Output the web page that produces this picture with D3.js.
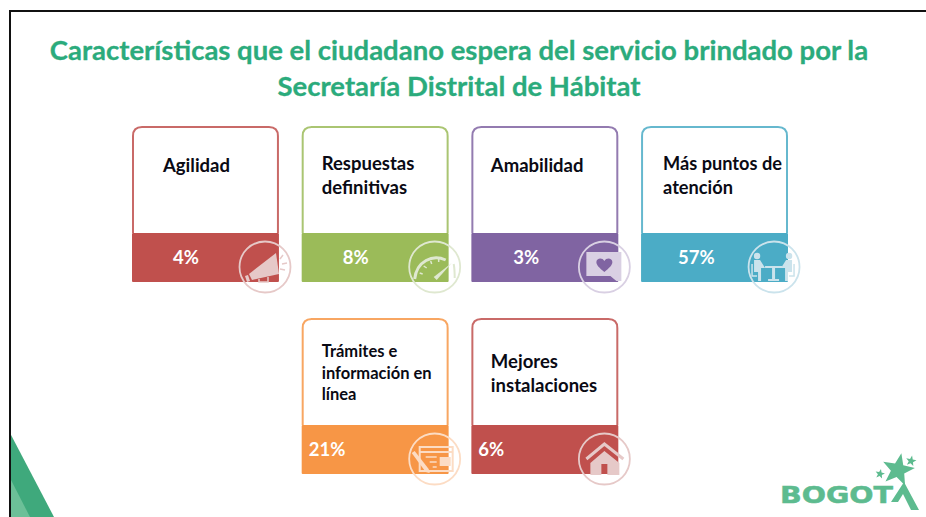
<!DOCTYPE html>
<html>
<head>
	<meta charset="utf-8">
	<title>Características</title>
	<style type="text/css">
		html, body {
			margin: 0;
			padding: 0;
			background-color: #fff;
			overflow: hidden;
		}

		svg {
			display: block;
			font-family: Lato, "Open Sans", sans-serif;
		}

		.title {
			font-size: 27.5px;
			font-weight: bold;
			fill: #2bab7c;
			stroke: #2bab7c;
			stroke-width: 0.3px;
			text-anchor: middle;
		}

		.label {
			font-weight: bold;
			fill: #0a0a14;
		}

		.value {
			font-size: 18.5px;
			font-weight: bold;
			fill: #fff;
		}
	</style>
	<script type="text/javascript" src="https://cdnjs.cloudflare.com/ajax/libs/d3/7.8.5/d3.min.js"></script>
</head>

<body>
	<div id='chart'></div>
	<script type="text/javascript">
		// values
		var titleLines = ['Características que el ciudadano espera del servicio brindado por la',
			'Secretaría Distrital de Hábitat'];
		var categories = ['Agilidad', 'Respuestas definitivas', 'Amabilidad', 'Más puntos de atención',
			'Trámites e información en línea', 'Mejores instalaciones'];
		var values = [4, 8, 3, 57, 21, 6];
		var labelLines = [['Agilidad'], ['Respuestas', 'definitivas'], ['Amabilidad'], ['Más puntos de', 'atención'],
			['Trámites e', 'información en', 'línea'], ['Mejores', 'instalaciones']];
		var iconNames = ['megaphone', 'gauge', 'heart', 'meeting', 'web', 'house'];

		// layout and colours, separate from the values
		var cardCols = [0, 1, 2, 3, 1, 2];
		var cardRows = [0, 0, 0, 0, 1, 1];
		var colours = ['#c0504d', '#9bbb59', '#8064a2', '#4bacc6', '#f79646', '#c0504d'];
		var tints = ['#e6c9c8', '#dfe8d0', '#d9d0e3', '#cbe3ec', '#fcdcc4', '#e6c9c8'];
		var labelDx = [31, 20, 19.5, 22, 20, 19.5];
		var labelDy = [46, 44, 46, 44, 39, 50];
		var labelSize = [18.5, 18.5, 18.5, 18.2, 16.5, 18.5];
		var labelGap = [24, 24, 24, 24, 21.5, 24];
		var valueDx = [41, 41, 42, 37, 7, 7];

		var width = 926, height = 517, cardH = 156, bandH = 49;

		var svg = d3.select('#chart')
			.append('svg')
			.attr('width', width)
			.attr('height', height);

		var xScale = d3.scaleBand()
			.domain([0, 1, 2, 3])
			.range([132, 788])
			.paddingInner(0.134);

		var yScale = d3.scalePoint()
			.domain([0, 1])
			.range([126, 318]);

		var fmt = function(v) { return v + '%'; };

		// corner triangles, behind the frame
		svg.append('path').attr('d', 'M10,433L54,517H10Z').attr('fill', '#3fa97c');
		svg.append('path').attr('d', 'M10,478L30,517H10Z').attr('fill', '#6cc098');

		// frame
		svg.append('path')
			.attr('d', 'M10,517V11H926')
			.attr('fill', 'none')
			.attr('stroke', '#111')
			.attr('stroke-width', 2);

		svg.selectAll('.title')
			.data(titleLines)
			.enter()
			.append('text')
			.attr('class', 'title')
			.attr('x', 459)
			.attr('y', function(d, i) { return 60 + i * 36; })
			.text(function(d) { return d; });

		// small icons, drawn around 0,0 inside the r=25 circle
		var icons = {
			megaphone: function(g, c, t) {
				g.append('path').attr('d', 'M-16,7L11,-14L14,7L-13,13Z').attr('fill', t);
				g.append('path').attr('d', 'M-20,9L-17,8L-15,14L-18,15Z').attr('fill', t);
				g.append('path').attr('d', 'M-6,12V15H3V10').attr('fill', 'none').attr('stroke', t).attr('stroke-width', 1.5);
				g.append('path').attr('d', 'M15,-8L18,-12M17,-3L22,-4M15,2L20,3').attr('stroke', t).attr('stroke-width', 1.5);
			},
			gauge: function(g, c, t) {
				g.append('path').attr('d', 'M-20,12C-18,-6 -2,-13 11,-7').attr('fill', 'none').attr('stroke', t).attr('stroke-width', 3);
				g.append('path').attr('d', 'M-15,6L-12,7M-11,-1L-8,1M-4,-6L-3,-3M4,-8L4,-5').attr('stroke', t).attr('stroke-width', 1.5);
				g.append('path').attr('d', 'M-1,10L2,13L17,-4Z').attr('fill', t);
				g.append('path').attr('d', 'M19,-3C20,2 20,6 20,11').attr('fill', 'none').attr('stroke', t).attr('stroke-width', 2);
			},
			heart: function(g, c, t) {
				g.append('path').attr('d', 'M-18,-15H17V14H12L6,9H-18Z').attr('fill', t);
				g.append('path').attr('d', 'M0,5C-5,1 -8,-2 -8,-5C-8,-9 -2,-10 0,-6C2,-10 8,-9 8,-5C8,-2 5,1 0,5Z').attr('fill', c);
			},
			meeting: function(g, c, t) {
				g.append('circle').attr('cx', -17).attr('cy', -11).attr('r', 3.2).attr('fill', t);
				g.append('circle').attr('cx', 15).attr('cy', -11).attr('r', 3.2).attr('fill', t);
				g.append('path').attr('d', 'M-20,-7H-14L-9,1H-13V14H-16V5H-20Z').attr('fill', t);
				g.append('path').attr('d', 'M18,-7H12L7,1H11V14H14V5H18Z').attr('fill', t);
				g.append('path').attr('d', 'M-9,-1H8V1H1V12H5V14H-6V12H-2V1H-9Z').attr('fill', t);
				g.append('path').attr('d', 'M-22,-3V9H-17M20,-3V9H15').attr('fill', 'none').attr('stroke', t).attr('stroke-width', 1.5);
			},
			web: function(g, c, t) {
				g.append('path').attr('d', 'M-15,-12H18V12H-15Z').attr('fill', 'none').attr('stroke', t).attr('stroke-width', 2);
				g.append('path').attr('d', 'M-15,-7H18').attr('stroke', t).attr('stroke-width', 2);
				g.append('path').attr('d', 'M-9,-2H2M-5,3H2M-2,8H2').attr('stroke', t).attr('stroke-width', 1.5);
				g.append('rect').attr('x', 5).attr('y', -2).attr('width', 11).attr('height', 9).attr('fill', t);
				g.append('path').attr('d', 'M-23,-6L-20,-8L-6,10L-5,14L-9,13Z').attr('fill', t);
			},
			house: function(g, c, t) {
				g.append('path').attr('d', 'M-18,0L0,-15L19,0').attr('fill', 'none').attr('stroke', t).attr('stroke-width', 3);
				g.append('path').attr('d', 'M-14,4L0,-8L15,4V16H3V5H-3V16H-14Z').attr('fill', t);
			}
		};

		var cards = svg.selectAll('.card')
			.data(values)
			.enter()
			.append('g')
			.attr('class', 'card')
			.attr('transform', function(d, i) {
				return 'translate(' + xScale(cardCols[i]) + ',' + yScale(cardRows[i]) + ')';
			});

		// outline with rounded top corners
		cards.append('path')
			.attr('d', function() {
				var w = xScale.bandwidth() - 2, h = cardH - bandH, r = 9;
				return 'M1,' + h + 'V' + (r + 1) + 'Q1,1 ' + (r + 1) + ',1H' + (w + 1 - r) +
					'Q' + (w + 1) + ',1 ' + (w + 1) + ',' + (r + 1) + 'V' + h;
			})
			.attr('fill', '#fff')
			.attr('stroke', function(d, i) { return colours[i]; })
			.attr('stroke-opacity', 0.85)
			.attr('stroke-width', 2);

		cards.append('rect')
			.attr('y', cardH - bandH)
			.attr('width', xScale.bandwidth())
			.attr('height', bandH)
			.attr('rx', 1)
			.attr('fill', function(d, i) { return colours[i]; });

		cards.append('text')
			.attr('class', 'label')
			.attr('aria-label', function(d, i) { return categories[i]; })
			.style('font-size', function(d, i) { return labelSize[i] + 'px'; })
			.each(function(d, i) {
				d3.select(this).selectAll('tspan')
					.data(labelLines[i])
					.enter()
					.append('tspan')
					.attr('x', labelDx[i])
					.attr('y', function(l, j) { return labelDy[i] + j * labelGap[i]; })
					.text(function(l) { return l; });
			});

		cards.append('text')
			.attr('class', 'value')
			.attr('x', function(d, i) { return valueDx[i]; })
			.attr('y', cardH - 18)
			.text(fmt);

		var badge = cards.append('g')
			.attr('transform', 'translate(' + 133 + ',' + (cardH - 15) + ')');

		badge.append('circle')
			.attr('r', 25.5)
			.attr('fill', 'none')
			.attr('stroke', function(d, i) { return tints[i]; })
			.attr('stroke-width', 1.8);

		badge.each(function(d, i) {
			icons[iconNames[i]](d3.select(this), colours[i], tints[i]);
		});

		// logo
		var logo = svg.append('g').attr('fill', '#5dbb8f');

		function star(cx, cy, r) {
			var pts = d3.range(10).map(function(i) {
				var a = -Math.PI / 2 + i * Math.PI / 5 + 0.2, rr = i % 2 ? r * 0.42 : r;
				return [cx + rr * Math.cos(a), cy + rr * Math.sin(a)];
			});
			return 'M' + pts.join('L') + 'Z';
		}

		logo.append('path').attr('d', star(898, 470, 17));
		logo.append('path').attr('d', star(880, 474, 5));
		logo.append('path').attr('d', star(911, 461, 5.5));
		logo.append('path').attr('d', 'M891,502L904,482L919,510H911L903,494L898,502Z');

		logo.append('text')
			.attr('x', 780)
			.attr('y', 502.5)
			.style('font-family', '"DejaVu Sans", sans-serif')
			.style('font-size', '23.5px')
			.style('font-weight', 'bold')
			.attr('stroke', '#5dbb8f')
			.attr('stroke-width', 0.5)
			.attr('textLength', 113)
			.attr('lengthAdjust', 'spacingAndGlyphs')
			.text('BOGOT');
	</script>
</body>
</html>
